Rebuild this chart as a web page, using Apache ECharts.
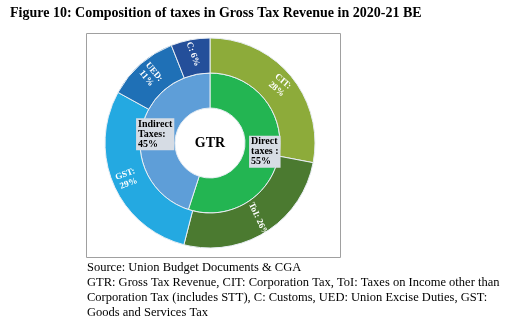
<!DOCTYPE html>
<html>
<head>
<meta charset="utf-8">
<script src="https://cdn.jsdelivr.net/npm/echarts@6/dist/echarts.min.js"></script>
<style>
  html, body { margin: 0; padding: 0; background: #fff; }
  #main { width: 512px; height: 324px; }
</style>
</head>
<body>
<div id="main"></div>
<script>
// inner ring
var innerNames = ['Direct\ntaxes :\n55%', 'Indirect\nTaxes:\n45%'];
var innerValues = [55, 45];
var innerColors = ['#23b552', '#5e9ed8'];

// outer ring
var outerNames = ['CIT:\n28%', 'ToI: 26%', 'GST:\n29%', 'UED:\n11%', 'C: 6%'];
var outerValues = [28, 26, 29, 11, 6];
var outerColors = ['#8dab3a', '#4b7a30', '#24a9e1', '#1f70b6', '#244f9a'];
var outerRotate = [-40, -65, 20, -50, -70];

var footLines = [
  'Source: Union Budget Documents & CGA',
  'GTR: Gross Tax Revenue, CIT: Corporation Tax, ToI: Taxes on Income other than',
  'Corporation Tax (includes STT), C: Customs, UED: Union Excise Duties, GST:',
  'Goods and Services Tax'
];

var chart = echarts.init(document.getElementById('main'));

var serif = '"Liberation Serif", "DejaVu Serif", serif';

var innerData = innerValues.map(function (v, i) {
  return { name: innerNames[i], value: v, itemStyle: { color: innerColors[i] } };
});
var outerData = outerValues.map(function (v, i) {
  return {
    name: outerNames[i], value: v,
    itemStyle: { color: outerColors[i] },
    label: { rotate: outerRotate[i] }
  };
});

var graphics = [
  {
    type: 'rect',
    shape: { x: 86.5, y: 33.5, width: 254, height: 224 },
    style: { fill: 'none', stroke: '#a0a0a0', lineWidth: 1 }
  },
  {
    type: 'text', left: 10, top: 6,
    style: {
      text: 'Figure 10: Composition of taxes in Gross Tax Revenue in 2020-21 BE',
      font: 'bold 14px ' + serif, fill: '#000'
    }
  },
  {
    type: 'text', x: 210, y: 143,
    style: {
      text: 'GTR', font: 'bold 14px ' + serif, fill: '#000',
      textAlign: 'center', textVerticalAlign: 'middle'
    }
  }
];
footLines.forEach(function (t, i) {
  graphics.push({
    type: 'text', x: 87, y: 261 + i * 15,
    style: { text: t, font: '12.5px ' + serif, fill: '#000' }
  });
});

chart.setOption({
  backgroundColor: '#fff',
  animation: false,
  graphic: graphics,
  series: [
    {
      type: 'pie',
      center: [210, 143],
      radius: [35, 70],
      startAngle: 90,
      clockwise: true,
      data: innerData,
      itemStyle: { borderColor: '#e8eef4', borderWidth: 1 },
      label: {
        show: true,
        position: 'inside',
        formatter: function (p) {
          return p.name.split('\n').map(function (s) { return '{t|' + s + '}'; }).join('\n');
        },
        backgroundColor: '#d6dce4',
        padding: [1, 2],
        rich: {
          t: {
            color: '#000',
            fontFamily: serif,
            fontWeight: 'bold',
            fontSize: 10,
            lineHeight: 10,
            align: 'left'
          }
        }
      },
      labelLine: { show: false },
      emphasis: { disabled: true }
    },
    {
      type: 'pie',
      center: [210, 143],
      radius: [70, 105],
      startAngle: 90,
      clockwise: true,
      data: outerData,
      itemStyle: { borderColor: '#e8eef4', borderWidth: 1 },
      label: {
        show: true,
        position: 'inside',
        formatter: '{b}',
        color: '#fff',
        fontFamily: serif,
        fontWeight: 'bold',
        fontSize: 9,
        lineHeight: 10
      },
      labelLine: { show: false },
      emphasis: { disabled: true }
    }
  ]
});
</script>
</body>
</html>
